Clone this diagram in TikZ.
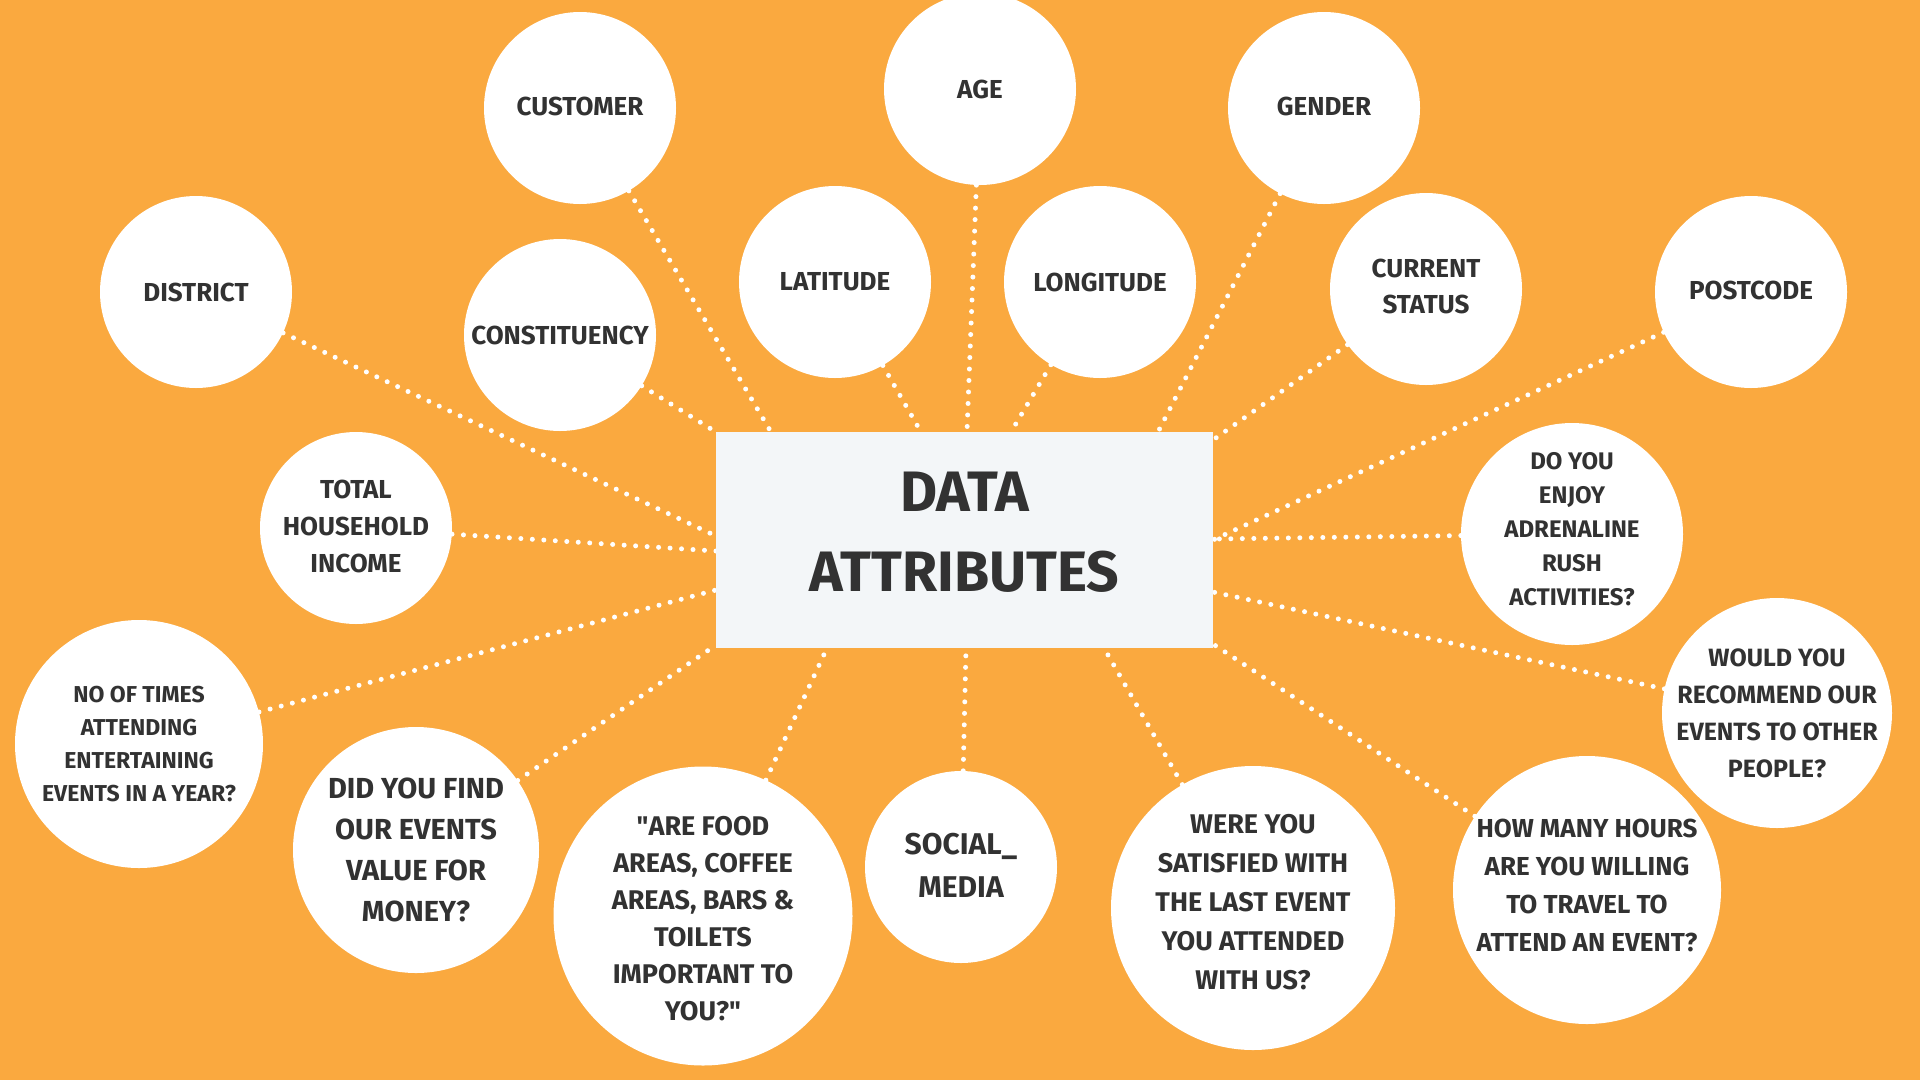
\documentclass[tikz,border=0pt]{standalone}
\usepackage{fontspec}
\setmainfont{Fira Sans}
% same family without the TeX quote mapping, for straight quote marks
\newfontfamily\rawfont{Fira Sans}

\definecolor{page}{HTML}{FAA93F}
\definecolor{card}{HTML}{F3F6F8}
\definecolor{ink}{HTML}{323232}

\pgfdeclarelayer{bg}
\pgfdeclarelayer{links}
\pgfsetlayers{bg,links,main}

\newcommand\sq{{\rawfont\symbol{34}}}

\tikzset{
  bub/.style={circle, fill=white, inner sep=0pt, minimum size=#1},
  lab/.style 2 args={text=ink, align=center, inner sep=0pt,
    font=\fontsize{#1}{#2}\selectfont\bfseries},
  cardbox/.style={rectangle, fill=card, inner sep=0pt,
    minimum width=497, minimum height=216},
  link/.style={draw=white, line width=5pt, line cap=round,
    dash pattern=on 0pt off 11.5pt}
}

\begin{document}
\begin{tikzpicture}[x=1pt,y=-1pt]
\useasboundingbox (0,0) rectangle (1920,1080);
\begin{pgfonlayer}{bg}
  \fill[page] (0,0) rectangle (1920,1080);
\end{pgfonlayer}

% central card
\node[cardbox, label={[lab={57}{80}, yshift=8pt]center:{DATA\\ATTRIBUTES}}] (core) at (964.5,540) {};

% attribute bubbles
\node[bub=192, label={[lab={26}{36}]center:DISTRICT}] (district) at (196,292) {};
\node[bub=192, label={[lab={26}{36}, yshift=2pt]center:CUSTOMER}] (customer) at (580,108) {};
\node[bub=192, label={[lab={26}{36}]center:CONSTITUENCY}] (constituency) at (560,335) {};
\node[bub=192, label={[lab={26}{36}]center:LATITUDE}] (latitude) at (835,282) {};
\node[bub=192, label={[lab={26}{36}]center:AGE}] (age) at (980,89) {};
\node[bub=192, label={[lab={26}{36}]center:LONGITUDE}] (longitude) at (1100,282) {};
\node[bub=192, label={[lab={26}{36}, yshift=2pt]center:GENDER}] (gender) at (1324,108) {};
\node[bub=192, label={[lab={26}{36}, yshift=3pt]center:{CURRENT\\STATUS}}] (status) at (1426,289) {};
\node[bub=192, label={[lab={26}{36}, yshift=2pt]center:POSTCODE}] (postcode) at (1751,292) {};
\node[bub=192, label={[lab={26}{37}, yshift=2pt]center:{TOTAL\\HOUSEHOLD\\INCOME}}] (income) at (356,528) {};

% question bubbles
\node[bub=222, label={[lab={24}{34}, yshift=5pt]center:{DO YOU\\ENJOY\\ADRENALINE\\RUSH\\ACTIVITIES?}}] (adrenaline) at (1572,534) {};
\node[bub=230, label={[lab={25}{37}]center:{WOULD YOU\\RECOMMEND OUR\\EVENTS TO OTHER\\PEOPLE?}}] (recommend) at (1777,713) {};
\node[bub=268, label={[lab={26}{38}, yshift=5pt]center:{HOW MANY HOURS\\ARE YOU WILLING\\TO TRAVEL TO\\ATTEND AN EVENT?}}] (travel) at (1587,890) {};
\node[bub=284, label={[lab={27}{39}, yshift=6pt]center:{WERE YOU\\SATISFIED WITH\\THE LAST EVENT\\YOU ATTENDED\\WITH US?}}] (satisfied) at (1253,908) {};
\node[bub=192, label={[lab={30}{43}, yshift=2pt]center:{SOCIAL\_\\MEDIA}}] (social) at (961,867) {};
\node[bub=299, label={[lab={27}{37}, yshift=-3pt]center:{\sq ARE FOOD\\AREAS, COFFEE\\AREAS, BARS \&\\TOILETS\\IMPORTANT TO\\YOU?\sq}}] (facilities) at (703,916) {};
\node[bub=246, label={[lab={29}{41}]center:{DID YOU FIND\\OUR EVENTS\\VALUE FOR\\MONEY?}}] (value) at (416,850) {};
\node[bub=248, label={[lab={23}{33}]center:{NO OF TIMES\\ATTENDING\\ENTERTAINING\\EVENTS IN A YEAR?}}] (frequency) at (139,744) {};

% where each link meets the card
\coordinate (eDistrict) at (716,536);
\coordinate (eCustomer) at (771,432);
\coordinate (eConstituency) at (716,432);
\coordinate (eLatitude) at (921,432);
\coordinate (eAge) at (967,432);
\coordinate (eLongitude) at (1011,432);
\coordinate (eGender) at (1158,432);
\coordinate (eStatus) at (1213,440);
\coordinate (ePostcode) at (1213,540);
\coordinate (eAdrenaline) at (1213,539);
\coordinate (eRecommend) at (1213,592);
\coordinate (eTravel) at (1213,644);
\coordinate (eSatisfied) at (1104,648);
\coordinate (eSocial) at (966,648);
\coordinate (eFacilities) at (827,648);
\coordinate (eValue) at (716,645);
\coordinate (eFrequency) at (716,590);
\coordinate (eIncome) at (716,551);

\begin{pgfonlayer}{links}
  \draw[link] (district) -- (eDistrict);
  \draw[link] (customer) -- (eCustomer);
  \draw[link] (constituency) -- (eConstituency);
  \draw[link] (latitude) -- (eLatitude);
  \draw[link] (age) -- (eAge);
  \draw[link] (longitude) -- (eLongitude);
  \draw[link] (gender) -- (eGender);
  \draw[link] (status) -- (eStatus);
  \draw[link] (postcode) -- (ePostcode);
  \draw[link] (adrenaline) -- (eAdrenaline);
  \draw[link] (recommend) -- (eRecommend);
  \draw[link] (travel) -- (eTravel);
  \draw[link] (satisfied) -- (eSatisfied);
  \draw[link] (social) -- (eSocial);
  \draw[link] (facilities) -- (eFacilities);
  \draw[link] (value) -- (eValue);
  \draw[link] (frequency) -- (eFrequency);
  \draw[link] (income) -- (eIncome);
\end{pgfonlayer}
\end{tikzpicture}
\end{document}
